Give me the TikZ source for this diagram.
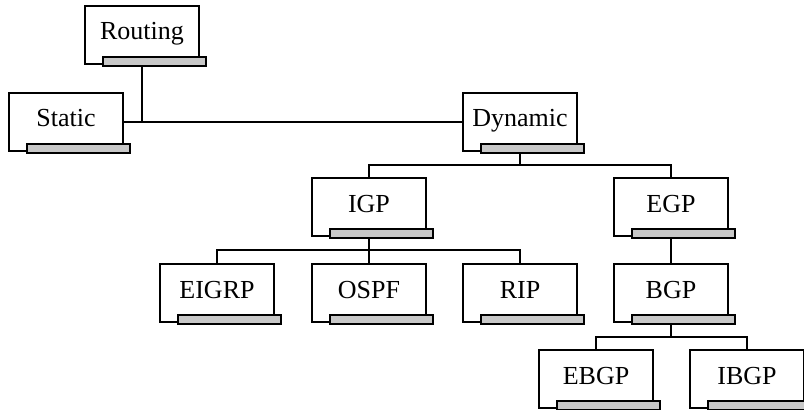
\documentclass[tikz,border=0pt]{standalone}
\usepackage{fontspec}
\setmainfont{Liberation Serif}
\usetikzlibrary{calc,backgrounds}
\definecolor{bargray}{RGB}{200,200,200}
\tikzset{
  box/.style={draw=black, line width=1.5pt, fill=white, anchor=north west,
    minimum width=85.5pt, minimum height=43.5pt, inner sep=0pt,
    text height=13pt, text depth=5.5pt,
    font=\fontsize{19.5}{22}\selectfont},
  bar/.style={draw=black, line width=1.5pt, fill=bargray},
  conn/.style={draw=black, line width=1.5pt}
}
\newcommand{\mkbox}[3]{%
  \node[box] (#1) at (#2) {#3};
  \path[bar] ($(#1.south west)+(19,-8)$) rectangle ($(#1.south west)+(122,1)$);
}
\begin{document}
\begin{tikzpicture}[x=0.75pt,y=-0.75pt]
\useasboundingbox (0,0) rectangle (804,410);
\mkbox{Routing}{84,5}{Routing}
\mkbox{Static}{8,92}{Static}
\mkbox{Dynamic}{462,92}{Dynamic}
\mkbox{IGP}{311,177}{IGP}
\mkbox{EGP}{613,177}{EGP}
\mkbox{EIGRP}{159,263}{EIGRP}
\mkbox{OSPF}{311,263}{OSPF}
\mkbox{RIP}{462,263}{RIP}
\mkbox{BGP}{613,263}{BGP}
\mkbox{EBGP}{538,349}{EBGP}
\mkbox{IBGP}{689,349}{IBGP}
\begin{scope}[on background layer]
\draw[conn] (Static.east) -- (Dynamic.west);
\draw[conn] (Routing.south) -- (Routing.south |- Static.east);
\draw[conn] (Dynamic.south) -- ++(0,13) -| (IGP.north);
\draw[conn] (Dynamic.south) -- ++(0,13) -| (EGP.north);
\draw[conn] (IGP.south) -- ++(0,13) -| (EIGRP.north);
\draw[conn] (IGP.south) -- (OSPF.north);
\draw[conn] (IGP.south) -- ++(0,13) -| (RIP.north);
\draw[conn] (EGP.south) -- (BGP.north);
\draw[conn] (BGP.south) -- ++(0,14) -| (EBGP.north);
\draw[conn] (BGP.south) -- ++(0,14) -| (IBGP.north);
\end{scope}
\end{tikzpicture}
\end{document}
